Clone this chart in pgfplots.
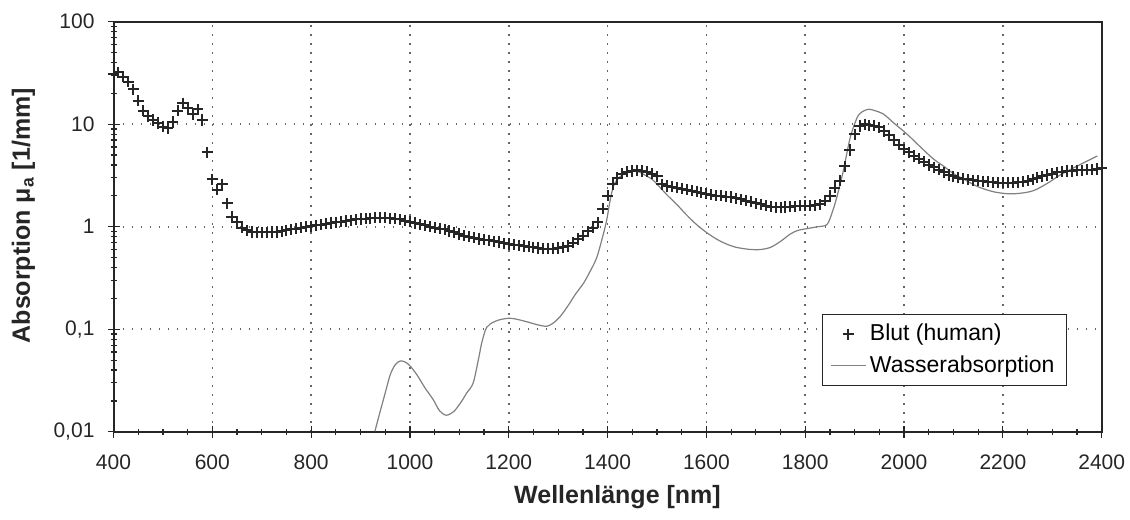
\documentclass[border=0pt]{standalone}
\usepackage{fontspec}
\setmainfont{Liberation Sans}
\usepackage{pgfplots}
\pgfplotsset{compat=1.18}
\usetikzlibrary{calc}
\begin{document}
\begin{tikzpicture}
\begin{semilogyaxis}[
 scale only axis, width=494pt, height=205pt,
 xmin=400, xmax=2400, ymin=0.01, ymax=100,
 xtick={400,600,800,1000,1200,1400,1600,1800,2000,2200,2400},
 xticklabels={400,600,800,1000,1200,1400,1600,1800,2000,2200,2400},
 minor x tick num=3,
 ytick={0.01,0.1,1,10,100},
 yticklabels={{0,01},{0,1},1,10,100},
 xtick pos=bottom, ytick pos=left,
 tick align=center,
 major tick length=6pt, minor tick length=3pt,
 grid=major,
 major grid style={dash pattern=on 0.8pt off 3.7pt, line width=0.8pt, black!60},
 axis line style={line width=1pt, black!85},
 tick style={black!85, line width=0.6pt},
 tick label style={font=\fontsize{10.5}{12}\selectfont, black!85},
 xticklabel style={yshift=-5pt},
 yticklabel style={xshift=-3pt},
 xlabel={Wellenlänge [nm]},
 ylabel={Absorption μ\textsubscript{a} [1/mm]},
 every axis x label/.style={at={(axis description cs:0.51,-0.1585)},anchor=center,font=\bfseries\fontsize{12.5}{14}\selectfont,text=black!85},
 every axis y label/.style={at={(axis description cs:-0.0911,0.527)},rotate=90,anchor=center,font=\bfseries\fontsize{12.5}{14}\selectfont,text=black!85},
 legend style={at={(axis description cs:0.965,0.288)}, anchor=north east, draw=black!85, line width=0.6pt, font=\fontsize{11.5}{13}\selectfont, inner xsep=4pt, inner ysep=3pt, row sep=2pt},
 legend cell align=left,
]
\addplot[only marks, mark=+, mark size=2.8pt, black!85, mark options={line width=1pt}] coordinates {
(400,31)(410,32)(420,29)(430,26)(440,22)(450,17)(460,13.5)(470,12)(480,11)(490,10.3)
(500,9.5)(510,9.2)(520,10.5)(530,13.5)(540,16)(550,14.5)(560,12.5)(570,14)(580,11)(590,5.3)
(600,2.9)(610,2.3)(620,2.6)(630,1.7)(640,1.25)(650,1.1)(660,0.98)(670,0.92)(680,0.89)(690,0.88)
(700,0.88)(710,0.88)(720,0.89)(730,0.89)(740,0.9)(750,0.92)(760,0.94)(770,0.96)(780,0.98)(790,1.0)
(800,1.01)(810,1.03)(820,1.05)(830,1.07)(840,1.09)(850,1.1)(860,1.12)(870,1.14)(880,1.16)(890,1.18)
(900,1.19)(910,1.2)(920,1.21)(930,1.22)(940,1.22)(950,1.22)(960,1.21)(970,1.2)(980,1.18)(990,1.15)
(1000,1.12)(1010,1.09)(1020,1.06)(1030,1.03)(1040,1.0)(1050,0.98)(1060,0.96)(1070,0.94)(1080,0.91)(1090,0.88)
(1100,0.85)(1110,0.82)(1120,0.8)(1130,0.78)(1140,0.76)(1150,0.75)(1160,0.74)(1170,0.72)(1180,0.71)(1190,0.69)
(1200,0.68)(1210,0.67)(1220,0.66)(1230,0.65)(1240,0.64)(1250,0.63)(1260,0.62)(1270,0.61)(1280,0.61)(1290,0.61)
(1300,0.62)(1310,0.63)(1320,0.65)(1330,0.7)(1340,0.76)(1350,0.82)(1360,0.9)(1370,0.98)(1380,1.1)(1390,1.5)
(1400,2.0)(1410,2.6)(1420,3.0)(1430,3.3)(1440,3.45)(1450,3.5)(1460,3.55)(1470,3.5)(1480,3.45)(1490,3.3)
(1500,3.1)(1510,2.6)(1520,2.5)(1530,2.45)(1540,2.4)(1550,2.35)(1560,2.3)(1570,2.25)(1580,2.2)(1590,2.15)
(1600,2.1)(1610,2.05)(1620,2.0)(1630,2.0)(1640,1.97)(1650,1.95)(1660,1.9)(1670,1.85)(1680,1.8)(1690,1.75)
(1700,1.7)(1710,1.65)(1720,1.6)(1730,1.57)(1740,1.55)(1750,1.55)(1760,1.56)(1770,1.57)(1780,1.58)(1790,1.6)
(1800,1.6)(1810,1.6)(1820,1.62)(1830,1.65)(1840,1.8)(1850,2.0)(1860,2.4)(1870,2.8)(1880,3.9)(1890,5.6)
(1900,8.0)(1910,9.6)(1920,10.0)(1930,9.8)(1940,9.7)(1950,9.3)(1960,8.6)(1970,7.8)(1980,7.0)(1990,6.3)
(2000,5.7)(2010,5.3)(2020,4.9)(2030,4.6)(2040,4.3)(2050,4.0)(2060,3.8)(2070,3.6)(2080,3.4)(2090,3.2)
(2100,3.1)(2110,3.0)(2120,2.95)(2130,2.9)(2140,2.85)(2150,2.8)(2160,2.78)(2170,2.75)(2180,2.72)(2190,2.7)
(2200,2.7)(2210,2.7)(2220,2.7)(2230,2.72)(2240,2.75)(2250,2.8)(2260,2.9)(2270,3.0)(2280,3.1)(2290,3.2)
(2300,3.3)(2310,3.4)(2320,3.45)(2330,3.5)(2340,3.5)(2350,3.55)(2360,3.55)(2370,3.6)(2380,3.6)(2390,3.65)
(2400,3.7)
};
\addlegendentry{Blut (human)}
\addplot[smooth, black!50, line width=0.6pt] coordinates {
(929,0.0101)(940,0.016)(950,0.024)(960,0.036)(970,0.045)(980,0.049)(990,0.048)(1000,0.044)
(1014,0.036)(1030,0.027)(1047,0.0206)(1060,0.016)(1074,0.0145)(1090,0.016)(1105,0.02)(1115,0.024)
(1128,0.030)(1140,0.055)(1145,0.073)(1155,0.104)(1170,0.118)(1185,0.125)(1203,0.128)(1220,0.124)
(1240,0.117)(1260,0.11)(1277,0.107)(1290,0.115)(1304,0.133)(1320,0.17)(1335,0.22)(1351,0.28)
(1365,0.37)(1378,0.5)(1390,0.8)(1398,1.15)(1405,1.8)(1412,2.5)(1420,2.9)(1430,3.2)(1440,3.4)
(1452,3.5)(1465,3.4)(1475,3.2)(1490,2.9)(1500,2.6)(1520,2.05)(1540,1.65)(1560,1.3)(1580,1.05)
(1600,0.88)(1620,0.76)(1640,0.68)(1660,0.63)(1689,0.6)(1710,0.6)(1730,0.63)(1750,0.72)
(1770,0.85)(1785,0.92)(1804,0.96)(1825,1.0)(1844,1.05)(1855,1.4)(1864,1.95)(1877,3.5)(1891,7.4)
(1905,11.6)(1915,13.2)(1928,14)(1940,13.6)(1958,12.6)(1980,10.2)(2006,8.0)(2030,6.2)(2059,4.6)
(2080,3.9)(2100,3.3)(2127,2.8)(2150,2.45)(2180,2.2)(2209,2.1)(2235,2.12)(2262,2.25)(2290,2.65)
(2316,3.2)(2350,3.9)(2391,4.9)
};
\addlegendentry{Wasserabsorption}
\end{semilogyaxis}
\pgfresetboundingbox
\path[use as bounding box] ($(current axis.south west)+(-56.75pt,-44pt)$) rectangle ($(current axis.north east)+(14.15pt,10.85pt)$);
\end{tikzpicture}
\end{document}
